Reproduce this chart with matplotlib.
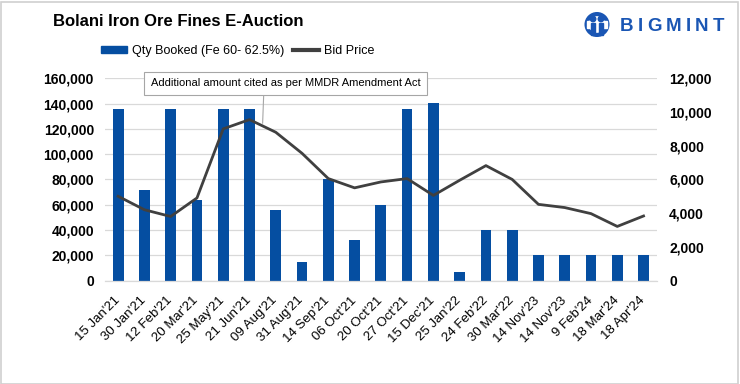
import matplotlib
matplotlib.use('Agg')
import matplotlib.pyplot as plt
from matplotlib.patches import Patch, Circle, Rectangle
from matplotlib.lines import Line2D
from matplotlib.ticker import FuncFormatter
from matplotlib.transforms import ScaledTranslation
import numpy as np

plt.rcParams['font.family'] = ['Liberation Sans', 'DejaVu Sans']

# data
dates = ["15 Jan'21", "30 Jan'21", "12 Feb'21", "20 Mar'21", "25 May'21",
         "21 Jun'21", "09 Aug'21", "31 Aug'21", "14 Sep'21", "06 Oct'21",
         "20 Oct'21", "27 Oct'21", "15 Dec'21", "25 Jan'22", "24 Feb'22",
         "30 Mar'22", "14 Nov'23", "14 Nov'23", "9 Feb'24", "18 Mar'24",
         "18 Apr'24"]
qty_booked = [136000, 72000, 136000, 64000, 136000, 136000, 56000, 15000,
              80000, 32000, 60000, 136000, 140500, 7000, 40000, 40000,
              20000, 20000, 20000, 20000, 20000]
bid_price = [5000, 4200, 3800, 4900, 9000, 9550, 8800, 7550, 6050, 5500,
             5850, 6050, 5050, 5950, 6820, 6000, 4520, 4330, 3970, 3210,
             3830]

note_text = 'Additional amount cited as per MMDR Amendment Act'
note_x = 5.5      # between 21 Jun'21 and 09 Aug'21
note_y = 9330

bar_color = '#054ea1'
line_color = '#404040'
grid_color = '#d9d9d9'

fig = plt.figure(figsize=(7.4, 3.84), dpi=100)
ax = fig.add_axes([0.1419, 0.2695, 0.7455, 0.5265])
ax2 = ax.twinx()

x = np.arange(len(dates))
ax.bar(x, qty_booked, width=0.41, color=bar_color, zorder=2)
ax2.plot(x, bid_price, color=line_color, lw=2.0, zorder=3)

ax.set_xlim(-0.5, len(dates) - 0.5)
ax.set_ylim(0, 160000)
ax2.set_ylim(0, 12000)
ax.set_yticks(np.arange(0, 160001, 20000))
ax2.set_yticks(np.arange(0, 12001, 2000))
fmt = FuncFormatter(lambda v, p: f'{int(v):,}')
ax.yaxis.set_major_formatter(fmt)
ax2.yaxis.set_major_formatter(fmt)

ax.grid(axis='y', color=grid_color, lw=0.9, zorder=0)
ax.set_axisbelow(True)
for a in (ax, ax2):
    for s in a.spines.values():
        s.set_visible(False)
ax.spines['bottom'].set_visible(True)
ax.spines['bottom'].set_color(grid_color)
ax.spines['bottom'].set_linewidth(0.9)

ax.set_xticks(x)
ax.set_xticklabels(dates, rotation=45, ha='right', fontsize=9.5)
ax.tick_params(axis='x', length=0, pad=10)
shift = ScaledTranslation(4 / 100, 0, fig.dpi_scale_trans)
for lab in ax.get_xticklabels():
    lab.set_transform(lab.get_transform() + shift)
ax.tick_params(axis='y', length=0, pad=8, labelsize=10)
ax2.tick_params(axis='y', length=0, pad=9, labelsize=10)
for lab in ax.get_yticklabels() + ax2.get_yticklabels():
    lab.set_fontweight('bold')

# annotation box with leader line
ax2.annotate(note_text, xy=(note_x, note_y), xytext=(285.5, 300.5),
             textcoords='figure pixels', ha='center', va='center',
             fontsize=8,
             bbox=dict(boxstyle='square,pad=0.6', fc='white', ec='#a6a6a6', lw=0.8),
             arrowprops=dict(arrowstyle='-', color='#a6a6a6', lw=0.8,
                             relpos=(0.42, 0), shrinkA=0, shrinkB=0),
             zorder=5)

# title
fig.text(53 / 740, 1 - 22 / 384, 'Bolani Iron Ore Fines E-Auction',
         fontsize=12, fontweight='bold', ha='left', va='center')

# legend
handles = [Patch(color=bar_color), Line2D([0], [0], color=line_color, lw=3)]
fig.legend(handles, ['Qty Booked (Fe 60- 62.5%)', 'Bid Price'],
           loc='center left', bbox_to_anchor=(101 / 740, 1 - 51 / 384),
           ncol=2, frameon=False, fontsize=9, borderpad=0, borderaxespad=0,
           handlelength=2.1, handleheight=0.55, handletextpad=0.4,
           columnspacing=0.65)

# logo: letters spaced out one by one
logo_blue = '#1a56b4'
renderer = fig.canvas.get_renderer()
lx = 620
for ch in 'BIGMINT':
    t = fig.text(lx / 740, 1 - 26.5 / 384, ch, fontsize=13.5, fontweight='bold',
                 color=logo_blue, ha='left', va='center')
    bb = t.get_window_extent(renderer)
    lx = bb.x1 + 4.2
lax = fig.add_axes([582 / 740, 1 - 38 / 384, 30 / 740, 27 / 384])
lax.set_xlim(-1.1, 1.1)
lax.set_ylim(-1.1, 1.1)
lax.set_aspect('equal')
lax.axis('off')
lax.add_patch(Circle((0, 0), 0.85, fill=False, ec=logo_blue, lw=3))
lax.add_patch(Rectangle((-0.8, -0.25), 1.6, 0.5, color='white'))
for hx in (-0.32, 0.32):
    lax.add_patch(Circle((hx, 0.45), 0.22, color=logo_blue))
    lax.add_patch(Rectangle((hx - 0.15, -0.85), 0.3, 1.0, color=logo_blue))

# outer border
fig.patches.append(Rectangle((0.5 / 740, 0.5 / 384), 1 - 2.5 / 740, 1 - 2 / 384,
                             transform=fig.transFigure, fill=False,
                             ec='#d0d0d0', lw=1.2))

fig.savefig('out.png', dpi=100)
